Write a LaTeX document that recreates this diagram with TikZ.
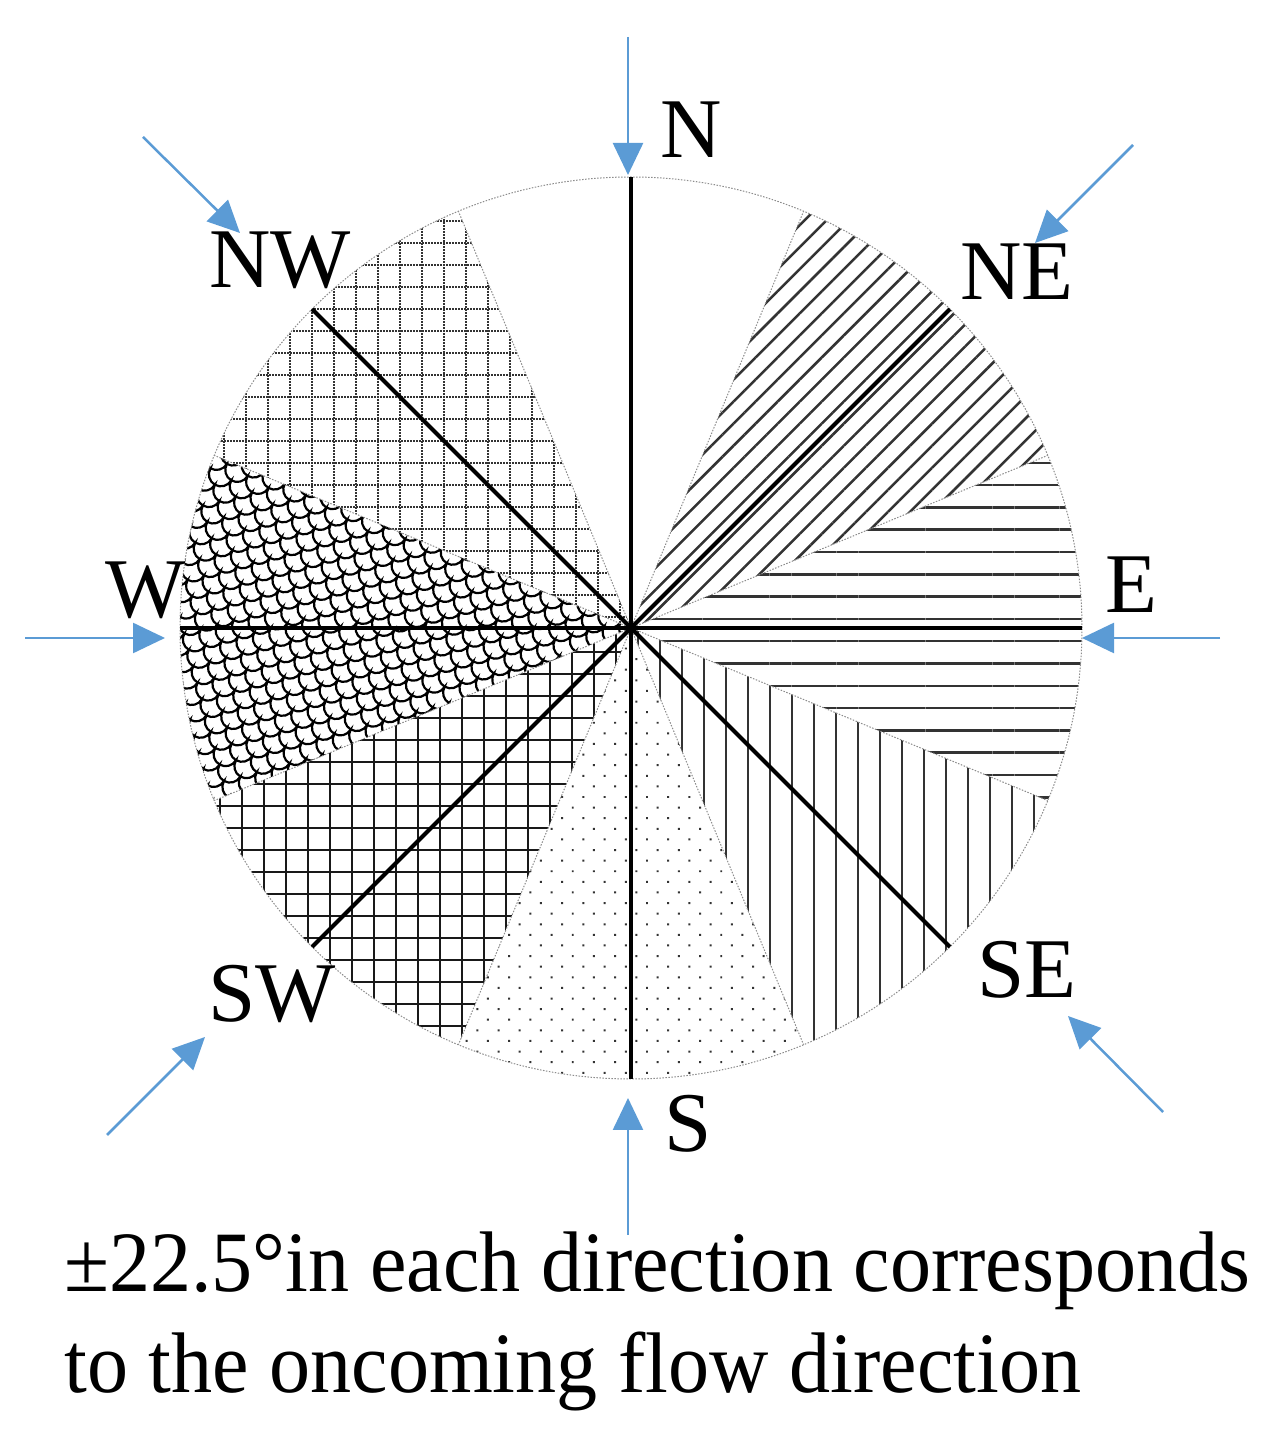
\documentclass[tikz,border=0pt]{standalone}
\usepackage{fontspec}
\setmainfont{Liberation Serif}
\usepackage{graphicx}
\usetikzlibrary{patterns,patterns.meta,arrows.meta}

\definecolor{arrowblue}{RGB}{91,155,213}

\tikzset{
  border/.style={draw=black!45, line width=1pt, dash pattern=on 1.5pt off 1.5pt},
  axis/.style={draw=black, line width=4pt},
  flow/.style={draw=arrowblue, line width=2.5pt, -{Triangle[length=32pt,width=30pt]}},
  dirlabel/.style={anchor=base, inner sep=0pt, font=\fontsize{85}{90}\selectfont},
  dotline/.style={draw=black!80, line width=1.8pt, dash pattern=on 1.5pt off 1.5pt},
  scaleline/.style={draw=black, line width=2.2pt}
}

\begin{document}
\begin{tikzpicture}[x=1pt,y=1pt]
\useasboundingbox (0,0) rectangle (1277,1444);
\coordinate (C) at (631,816);

% sectors
\fill[pattern={Lines[angle=45,distance=15.6pt,line width=2.5pt]}, pattern color=black!80]
  (C) -- ++(22.5:451) arc[start angle=22.5, end angle=67.5, radius=451] -- cycle;
\fill[pattern={Lines[angle=0,distance=22.3pt,line width=2.5pt]}, pattern color=black!80]
  (C) -- ++(-22.5:451) arc[start angle=-22.5, end angle=22.5, radius=451] -- cycle;
\fill[pattern={Lines[angle=90,distance=22pt,line width=2.5pt]}, pattern color=black!80]
  (C) -- ++(-67.5:451) arc[start angle=-67.5, end angle=-22.5, radius=451] -- cycle;
\fill[pattern={Dots[angle=45,distance=15pt,radius=1.4pt]}, pattern color=black!80]
  (C) -- ++(-112.5:451) arc[start angle=-112.5, end angle=-67.5, radius=451] -- cycle;
\fill[pattern={Hatch[angle=0,distance=22pt,line width=2.5pt]}, pattern color=black!90]
  (C) -- ++(-157.5:451) arc[start angle=-157.5, end angle=-112.5, radius=451] -- cycle;

% W sector: scales
\begin{scope}
  \clip (C) -- ++(157.5:451) arc[start angle=157.5, end angle=202.5, radius=451] -- cycle;
  \begin{scope}[shift={(C)}, rotate=-30]
    \foreach \j in {-39,...,39}
      \draw[scaleline] ({-540+abs(mod(\j,2))*12}, {12*\j})
        \foreach \i in {1,...,27} {arc[start angle=180, end angle=360, radius=12]};
  \end{scope}
\end{scope}

% NW sector: dotted grid
\begin{scope}
  \clip (C) -- ++(112.5:451) arc[start angle=112.5, end angle=157.5, radius=451] -- cycle;
  \foreach \k in {0,...,21} {
    \draw[dotline] ({631-22*\k-11},800) -- ({631-22*\k-11},1280);
    \draw[dotline] (170,{816+22*\k+11}) -- (645,{816+22*\k+11});
  }
\end{scope}

% sector borders and outline
\foreach \a in {22.5,67.5,...,337.5} \draw[border] (C) -- ++(\a:451);
\draw[border] (C) circle[radius=451];

% axes
\draw[axis] (C) -- ++(90:451);
\draw[axis] (C) -- ++(270:451);
\draw[axis] (C) -- ++(0:451);
\draw[axis] (C) -- ++(180:451);
\draw[axis] (C) -- ++(45:451);
\draw[axis] (C) -- ++(135:451);
\draw[axis] (C) -- ++(225:451);
\draw[axis] (C) -- ++(315:451);

% arrows
\coordinate (nT) at (628,1407);  \coordinate (nH) at (628,1269);
\coordinate (neT) at (1133,1299); \coordinate (neH) at (1035,1201);
\coordinate (eT) at (1220,806);  \coordinate (eH) at (1082,806);
\coordinate (seT) at (1163,332); \coordinate (seH) at (1068,428);
\coordinate (sT) at (628,209);   \coordinate (sH) at (628,346);
\coordinate (swT) at (107,309);  \coordinate (swH) at (205,407);
\coordinate (wT) at (25,806);    \coordinate (wH) at (165,806);
\coordinate (nwT) at (143,1307); \coordinate (nwH) at (240,1211);
\foreach \d in {n,ne,e,se,s,sw,w,nw} \draw[flow] (\d T) -- (\d H);

% labels
\node[dirlabel] (lN)  at (691,1286) {N};
\node[dirlabel] (lNE) at (1017,1144) {NE};
\node[dirlabel] (lE)  at (1131,831) {E};
\node[dirlabel] (lSE) at (1027,446) {SE};
\node[dirlabel] (lS)  at (688,292) {S};
\node[dirlabel] (lSW) at (272,422) {SW};
\node[dirlabel] (lW)  at (146,826) {W};
\node[dirlabel] (lNW) at (280,1156) {NW};

% caption
\node[anchor=base west, inner sep=0pt] (cap) at (64,152)
  {\resizebox*{1186pt}{\totalheight}{\fontsize{86}{101}\selectfont\begin{tabular}[t]{@{}l@{}}±22.5°in each direction corresponds\\to the oncoming flow direction\end{tabular}}};
\end{tikzpicture}
\end{document}
